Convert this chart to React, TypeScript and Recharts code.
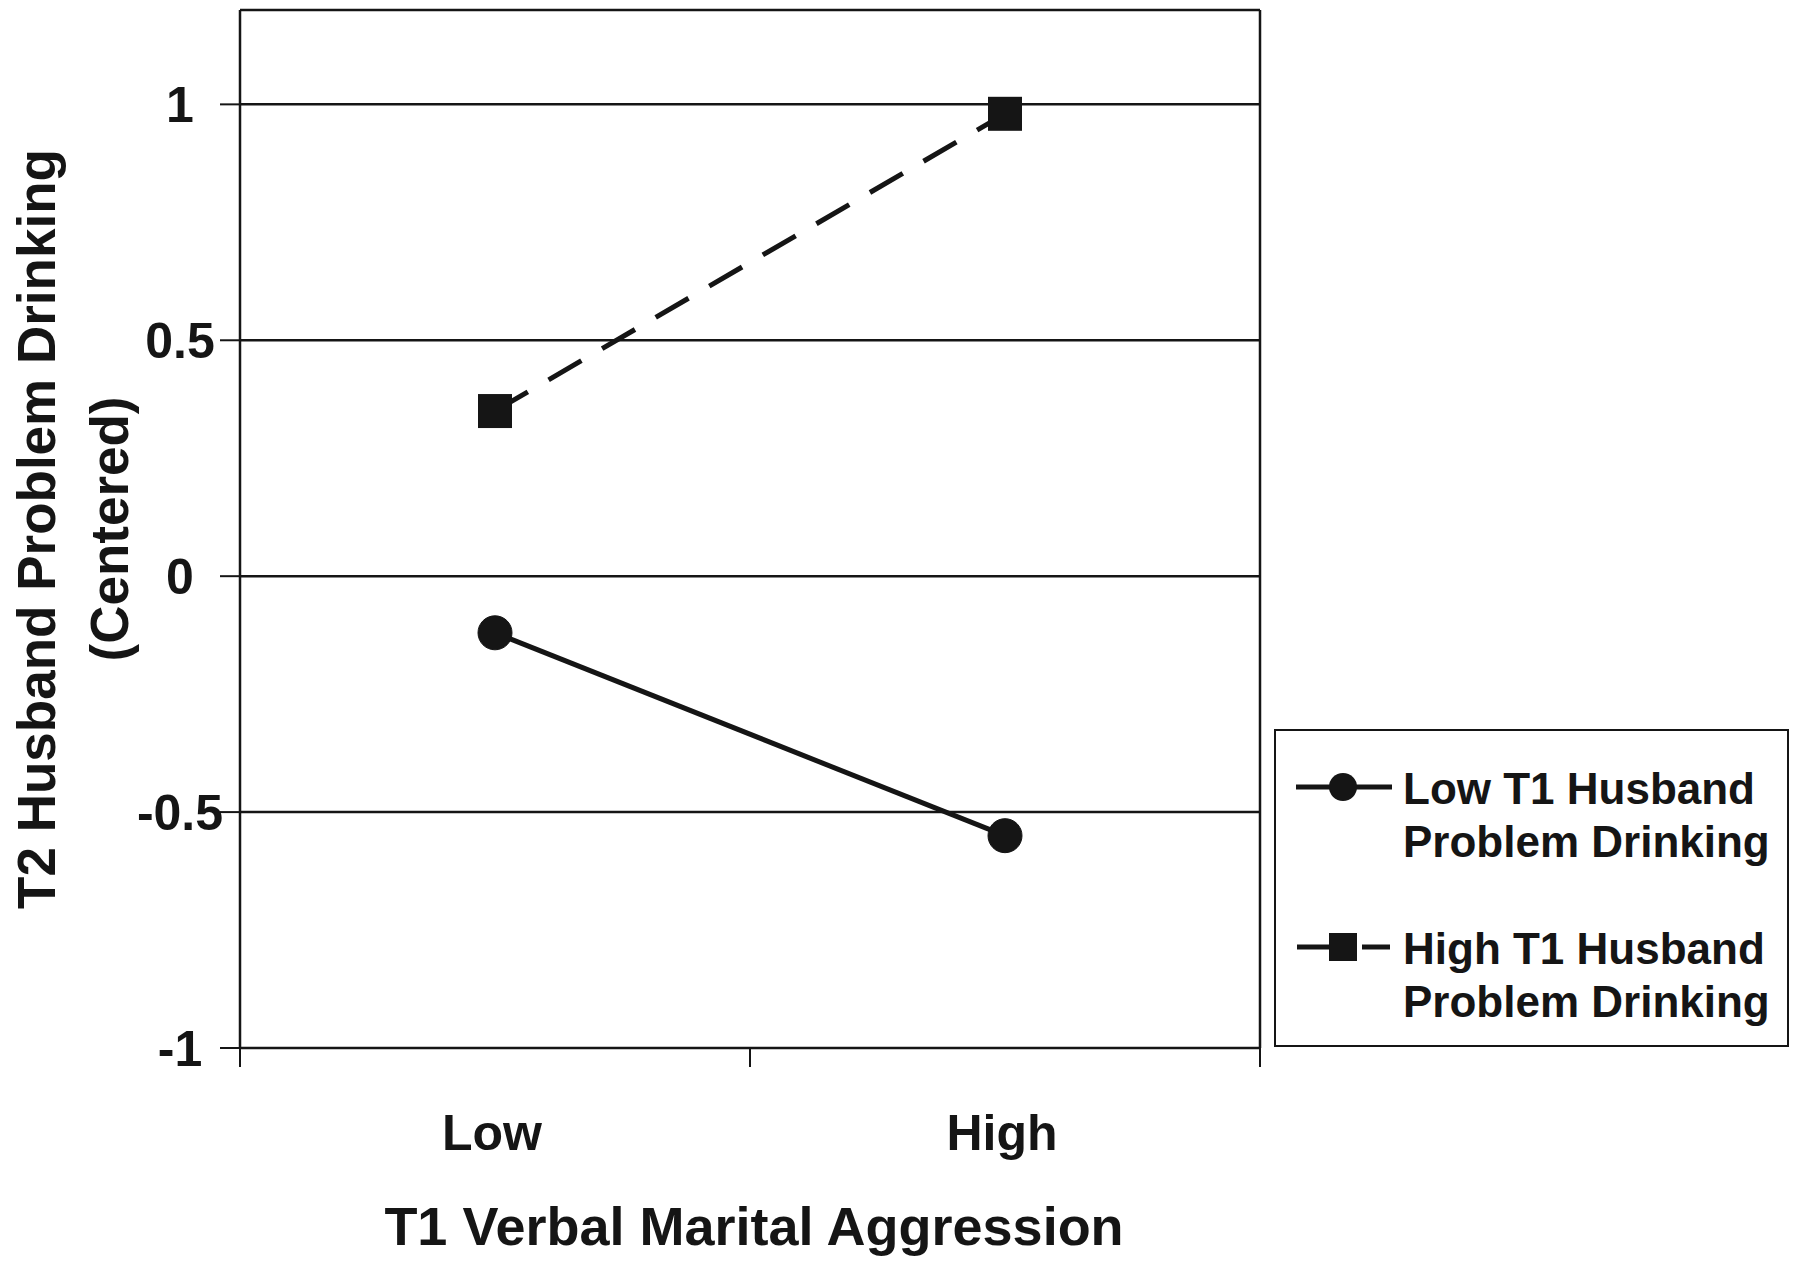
import { LineChart, Line, XAxis, YAxis, CartesianGrid, ReferenceLine, Legend, Label } from 'recharts'

// T1 verbal marital aggression levels
const categories = ['Low', 'High']
// T2 husband problem drinking (centered), by T1 husband problem drinking group
const lowT1Drinking = [-0.12, -0.55]
const highT1Drinking = [0.35, 0.98]
const yTicks = [-1, -0.5, 0, 0.5, 1]

const FONT = '"Liberation Sans", Arial, Helvetica, sans-serif'
const INK = '#151515'

const data = categories.map((name, i) => ({
  pos: i + 0.5,
  name,
  low: lowT1Drinking[i],
  high: highT1Drinking[i],
}))

const xTickValues = [0, 0.5, 1, 1.5, 2]

function XTick(props: any) {
  const { x, y, payload } = props
  const v = payload.value
  if (Number.isInteger(v)) {
    return <line x1={x} x2={x} y1={y} y2={y + 19} stroke={INK} strokeWidth={2} />
  }
  return (
    <text x={x - 3} y={y + 102} textAnchor="middle" fontFamily={FONT} fontWeight="bold" fontSize={50} fill={INK}>
      {categories[Math.floor(v)]}
    </text>
  )
}

function YTick(props: any) {
  const { x, y, payload } = props
  return (
    <text x={x - 40} y={y} dy="0.36em" textAnchor="middle" fontFamily={FONT} fontWeight="bold" fontSize={50} fill={INK}>
      {payload.value}
    </text>
  )
}

function SquareDot(props: any) {
  const { cx, cy } = props
  if (cx == null || cy == null) return null
  return <rect x={cx - 17} y={cy - 17} width={34} height={34} fill={INK} />
}

function XTitle(props: any) {
  const { viewBox } = props
  return (
    <text x={viewBox.x + viewBox.width / 2 + 4} y={1245} textAnchor="middle" fontFamily={FONT} fontWeight="bold" fontSize={54} fill={INK}>
      T1 Verbal Marital Aggression
    </text>
  )
}

function YTitle(props: any) {
  const { viewBox } = props
  const cy = viewBox.y + viewBox.height / 2
  return (
    <g fontFamily={FONT} fontWeight="bold" fontSize={53} fill={INK} textAnchor="middle">
      <text x={55} y={cy} transform={`rotate(-90, 55, ${cy})`}>T2 Husband Problem Drinking</text>
      <text x={128} y={cy} transform={`rotate(-90, 128, ${cy})`}>(Centered)</text>
    </g>
  )
}

function LegendBox() {
  const lines = [
    ['Low T1 Husband', 'Problem Drinking'],
    ['High T1 Husband', 'Problem Drinking'],
  ]
  return (
    <svg width={515} height={318} style={{ display: 'block' }}>
      <rect x={1} y={1} width={513} height={316} fill="#fff" stroke={INK} strokeWidth={2} />
      <line x1={22} x2={118} y1={58} y2={58} stroke={INK} strokeWidth={5} />
      <circle cx={69} cy={58} r={14} fill={INK} />
      <line x1={23} x2={56} y1={218} y2={218} stroke={INK} strokeWidth={5} />
      <line x1={88} x2={116} y1={218} y2={218} stroke={INK} strokeWidth={5} />
      <rect x={55} y={204} width={28} height={28} fill={INK} />
      <g fontFamily={FONT} fontWeight="bold" fontSize={44} fill={INK}>
        <text x={129} y={75}>{lines[0][0]}</text>
        <text x={129} y={128}>{lines[0][1]}</text>
        <text x={129} y={235}>{lines[1][0]}</text>
        <text x={129} y={288}>{lines[1][1]}</text>
      </g>
    </svg>
  )
}

export default function App() {
  return (
    <div style={{ position: 'absolute', left: 0, top: 0, background: '#fff' }}>
      <LineChart width={1800} height={1266} data={data} margin={{ top: 10, right: 540, bottom: 0, left: 0 }}>
        <CartesianGrid vertical={false} stroke={INK} strokeWidth={2.5} horizontalValues={yTicks} />
        <XAxis
          dataKey="pos"
          type="number"
          domain={[0, categories.length]}
          ticks={xTickValues}
          interval={0}
          tick={<XTick />}
          tickLine={false}
          axisLine={false}
          tickSize={0}
          tickMargin={0}
          height={218}
        >
          <Label content={<XTitle />} />
        </XAxis>
        <YAxis
          type="number"
          domain={[-1, 1.2]}
          ticks={yTicks}
          interval={0}
          width={240}
          tickSize={20}
          tickMargin={0}
          tick={<YTick />}
          tickLine={{ stroke: INK, strokeWidth: 2 }}
          axisLine={{ stroke: INK, strokeWidth: 2.5 }}
        >
          <Label content={<YTitle />} />
        </YAxis>
        <ReferenceLine y={1.2} stroke={INK} strokeWidth={2.5} />
        <ReferenceLine x={2} stroke={INK} strokeWidth={2.5} />
        <Line
          dataKey="low"
          stroke={INK}
          strokeWidth={5}
          dot={{ r: 17, fill: INK, stroke: INK, strokeWidth: 1 }}
          isAnimationActive={false}
        />
        <Line
          dataKey="high"
          stroke={INK}
          strokeWidth={5}
          strokeDasharray="38 24"
          dot={<SquareDot />}
          isAnimationActive={false}
        />
        <Legend
          layout="vertical"
          align="center"
          verticalAlign="middle"
          content={<LegendBox />}
          wrapperStyle={{ left: 1274, top: 729, width: 515, height: 318 }}
        />
      </LineChart>
    </div>
  )
}
